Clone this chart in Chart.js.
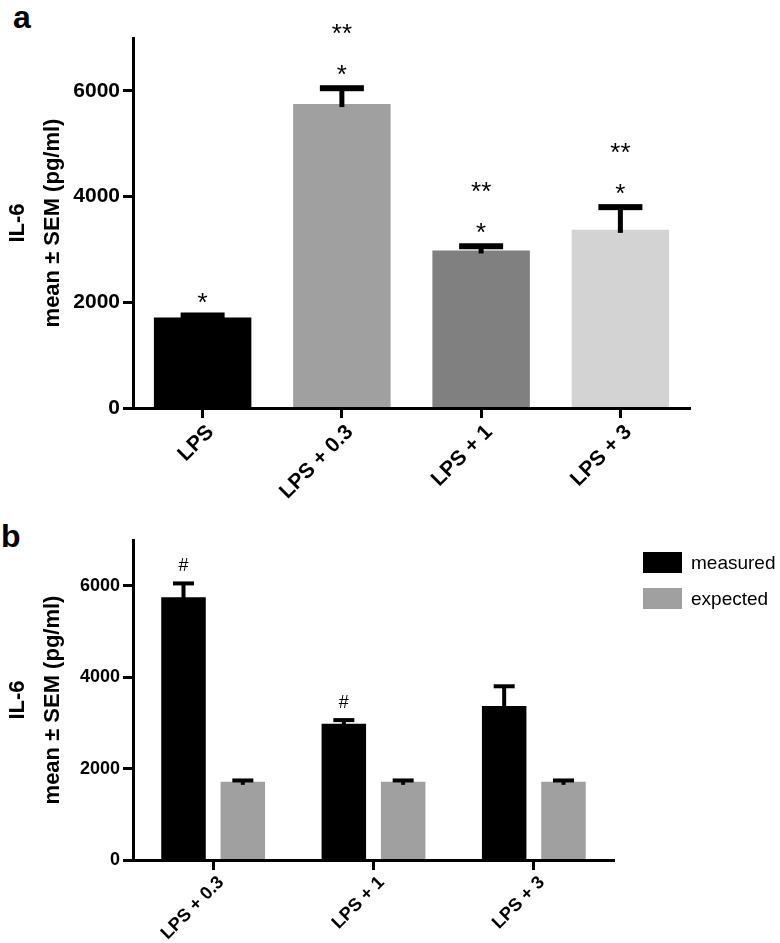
<!DOCTYPE html>
<html>
<head>
<meta charset="utf-8">
<script src="https://cdn.jsdelivr.net/npm/chart.js@4/dist/chart.umd.min.js"></script>
<style>
body { margin: 0; background: #fff; width: 780px; height: 943px; position: relative; overflow: hidden; font-family: "Liberation Sans", Arial, sans-serif; }
.panel-label { position: absolute; font-weight: bold; font-size: 32px; line-height: 1; }
#wrap_a { position: absolute; left: 0; top: 0; }
#wrap_b { position: absolute; left: 0; top: 500px; }
</style>
</head>
<body>
<div class="panel-label" style="left:13px;top:1px">a</div>
<div class="panel-label" style="left:1px;top:520px">b</div>
<div id="wrap_a"><canvas id="chart_a" width="780" height="500"></canvas></div>
<div id="wrap_b"><canvas id="chart_b" width="780" height="443"></canvas></div>
<script>
"use strict"

// panel a
var categoriesA = ["LPS", "LPS + 0.3", "LPS + 1", "LPS + 3"];
var meanA = [1710, 5750, 2980, 3370];
var semA = [40, 300, 80, 430];
var marksA = [["*"], ["*", "**"], ["*", "**"], ["*", "**"]];
var coloursA = ["#000000", "#a0a0a0", "#808080", "#d3d3d3"];

// panel b
var categoriesB = ["LPS + 0.3", "LPS + 1", "LPS + 3"];
var measuredB = [5750, 2980, 3370];
var measuredSemB = [300, 80, 430];
var measuredMarksB = [["#"], ["#"], []];
var expectedB = [1710, 1710, 1710];
var expectedSemB = [30, 30, 30];

var yMax = 7000;
var yTicks = [0, 2000, 4000, 6000];
var yTitle = ["IL-6", "mean \u00b1 SEM (pg/ml)"];

Chart.defaults.font.family = '"Liberation Sans", Arial, sans-serif';
Chart.defaults.color = "#000";

// SEM bars (upper half only) plus the significance marks above them
var errorBars = {
    id: 'errorBars',
    afterDatasetsDraw: function(chart, args, opts) {
        var ctx = chart.ctx;
        var yScale = chart.scales.y;
        chart.data.datasets.forEach(function(ds, i) {
            if (!ds.errors) return;
            var meta = chart.getDatasetMeta(i);
            meta.data.forEach(function(bar, j) {
                var top = yScale.getPixelForValue(ds.data[j] + ds.errors[j]);
                ctx.save();
                ctx.fillStyle = "#000";
                ctx.fillRect(bar.x - opts.stem / 2, top, opts.stem, bar.y - top + opts.sink);
                ctx.fillRect(bar.x - opts.cap / 2, top - opts.capThick / 2, opts.cap, opts.capThick);
                var marks = ds.marks ? ds.marks[j] : [];
                ctx.font = opts.markSize + 'px "Liberation Sans", Arial, sans-serif';
                ctx.textAlign = "center";
                ctx.textBaseline = "alphabetic";
                marks.forEach(function(m, k) {
                    var mt = ctx.measureText(m);
                    var cy = top - opts.markGap - k * opts.markStep;
                    var base = cy + (mt.actualBoundingBoxAscent - mt.actualBoundingBoxDescent) / 2;
                    ctx.fillText(m, bar.x, base);
                });
                ctx.restore();
            });
        });
    }
};

var sideLegend = {
    id: 'sideLegend',
    afterDraw: function(chart, args, opts) {
        if (!opts.left) return;
        var ctx = chart.ctx;
        ctx.save();
        chart.data.datasets.forEach(function(ds, i) {
            var y = opts.top + i * opts.step;
            ctx.fillStyle = ds.backgroundColor;
            ctx.fillRect(opts.left, y, opts.boxW, opts.boxH);
            ctx.fillStyle = "#000";
            ctx.font = opts.size + 'px "Liberation Sans", Arial, sans-serif';
            ctx.textAlign = "left";
            ctx.textBaseline = "middle";
            ctx.fillText(ds.label, opts.left + opts.boxW + 9, y + opts.boxH / 2 + 1);
        });
        ctx.restore();
    }
};

function axes(tickSize, xLabelSize, xHeight) {
    return {
        x: {
            offset: true,
            grid: { offset: false, drawOnChartArea: false, drawTicks: true, tickLength: 10, tickWidth: 3, tickColor: "#000", z: 1 },
            border: { display: true, color: "#000", width: 3, z: 1 },
            ticks: { minRotation: 45, maxRotation: 45, padding: 2, labelOffset: 8, font: { size: xLabelSize, weight: 'bold' } },
            afterFit: function(s) { s.height = xHeight; }
        },
        y: {
            min: 0,
            max: yMax,
            grid: { drawOnChartArea: false, drawTicks: true, tickLength: 10, tickWidth: 3, tickColor: "#000", z: 1 },
            border: { display: true, color: "#000", width: 3, z: 1 },
            ticks: {
                padding: 3,
                font: { size: tickSize, weight: 'bold' },
                callback: function(v) { return String(v); }
            },
            afterBuildTicks: function(s) {
                s.ticks = yTicks.map(function(v) { return { value: v }; });
            },
            title: { display: true, text: yTitle, padding: { top: 0, bottom: 0 }, font: { size: 22, weight: 'bold', lineHeight: '35px' } },
            afterFit: function(s) { s.width = 133; }
        }
    };
}

var chartA = new Chart(document.getElementById("chart_a"), {
    type: 'bar',
    data: {
        labels: categoriesA,
        datasets: [
            {
                label: "IL-6",
                data: meanA,
                errors: semA,
                marks: marksA,
                backgroundColor: coloursA,
                borderWidth: 0,
                barPercentage: 0.7,
                categoryPercentage: 1.0
            }
        ]
    },
    options: {
        responsive: false,
        animation: false,
        layout: { padding: { top: 38, right: 90, left: 0, bottom: 0 } },
        plugins: {
            legend: { display: false },
            tooltip: { enabled: false },
            errorBars: { stem: 5, cap: 44, capThick: 6, sink: 3, markSize: 26, markGap: 18, markStep: 41 }
        },
        scales: axes(21, 21, 92)
    },
    plugins: [errorBars, sideLegend]
});

var chartB = new Chart(document.getElementById("chart_b"), {
    type: 'bar',
    data: {
        labels: categoriesB,
        datasets: [
            {
                label: "measured",
                data: measuredB,
                errors: measuredSemB,
                marks: measuredMarksB,
                backgroundColor: "#000000",
                borderWidth: 0,
                barPercentage: 0.75,
                categoryPercentage: 0.74
            },
            {
                label: "expected",
                data: expectedB,
                errors: expectedSemB,
                backgroundColor: "#a0a0a0",
                borderWidth: 0,
                barPercentage: 0.75,
                categoryPercentage: 0.74
            }
        ]
    },
    options: {
        responsive: false,
        animation: false,
        layout: { padding: { top: 40, right: 166, left: 0, bottom: 0 } },
        plugins: {
            legend: { display: false },
            tooltip: { enabled: false },
            errorBars: { stem: 4, cap: 21, capThick: 4, sink: 3, markSize: 18, markGap: 19, markStep: 30 },
            sideLegend: { left: 643, top: 52, step: 36, boxW: 39, boxH: 21, size: 19 }
        },
        scales: axes(18, 18, 83)
    },
    plugins: [errorBars, sideLegend]
});
</script>
</body>
</html>
